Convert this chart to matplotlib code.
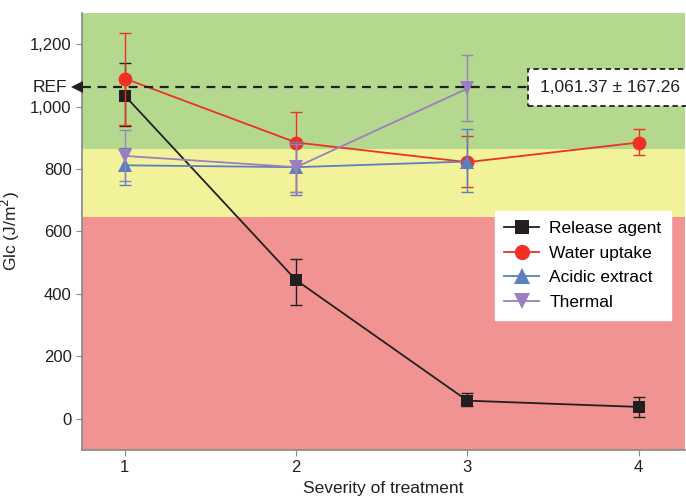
import numpy as np
import matplotlib
matplotlib.use("Agg")
import matplotlib.pyplot as plt
from matplotlib.patches import Rectangle

plt.rcParams['font.family'] = ['Liberation Sans', 'DejaVu Sans']

severity = [1, 2, 3, 4]

release_mean = [1035, 444, 58, 38]
release_lo = [97, 80, 18, 31]
release_hi = [105, 69, 24, 32]

water_x = [1, 2, 3, 4]
water_mean = [1090, 885, 822, 885]
water_lo = [148, 159, 79, 40]
water_hi = [147, 97, 85, 43]

acid_x = [1, 2, 3]
acid_mean = [812, 806, 824]
acid_lo = [64, 90, 98]
acid_hi = [54, 80, 105]

thermal_x = [1, 2, 3]
thermal_mean = [842, 806, 1058]
thermal_lo = [80, 80, 103]
thermal_hi = [82, 75, 108]

ref_value = 1061.37
ref_sd = 167.26
band_low = 645
band_high = 863

fig = plt.figure(figsize=(6.86, 4.98), dpi=100)
ax = fig.add_axes([0.1195, 0.0964, 0.879, 0.8776])

ax.set_xlim(0.75, 4.27)
ax.set_ylim(-100, 1300)

ax.axhspan(-100, band_low, color='#f29393', zorder=0, lw=0)
ax.axhspan(band_low, band_high, color='#f2f29b', zorder=0, lw=0)
ax.axhspan(band_high, 1300, color='#b5d88f', zorder=0, lw=0)

series = [
    ("Release agent", severity, release_mean, release_lo, release_hi, '#231f20', 's', 9),
    ("Water uptake", water_x, water_mean, water_lo, water_hi, '#ee3124', 'o', 10),
    ("Acidic extract", acid_x, acid_mean, acid_lo, acid_hi, '#5b7fbf', '^', 10),
    ("Thermal", thermal_x, thermal_mean, thermal_lo, thermal_hi, '#9b7fc0', 'v', 10),
]

handles = []
for i, (name, xs, ys, lo, hi, col, mk, ms) in enumerate(series):
    ax.errorbar(xs, ys, yerr=[lo, hi], fmt='none', ecolor=col, elinewidth=1.0,
                capsize=4, capthick=1.0, zorder=3 + i)
    h, = ax.plot(xs, ys, color=col, lw=1.3, marker=mk, markersize=ms,
                 markeredgewidth=0, label=name, zorder=3 + i)
    handles.append(h)

# reference line, arrow head and labels
ytrans = ax.get_yaxis_transform()
ax.plot([0, 0.74], [ref_value, ref_value], transform=ytrans, color='#231f20',
        lw=1.6, linestyle=(0, (4, 3)), zorder=8)
ax.plot([-0.008], [ref_value], transform=ytrans, marker='<', markersize=9,
        color='#231f20', markeredgewidth=0, clip_on=False, zorder=9)
ax.text(-0.025, ref_value, 'REF', transform=ytrans, ha='right', va='center',
        fontsize=12.5, color='#231f20')
ax.add_patch(Rectangle((0.74, ref_value - 58), 0.3, 116, transform=ytrans,
                       fc='white', ec='#231f20', lw=1.3, ls=(0, (3, 2)),
                       clip_on=False, zorder=9))
ax.text(0.876, ref_value, f'1,061.37 ± {ref_sd:.2f}', transform=ytrans,
        ha='center', va='center', fontsize=12.5, color='#231f20', zorder=10)

ax.set_xticks(severity)
ax.set_yticks([0, 200, 400, 600, 800, 1000, 1200])
ax.set_yticklabels(['0', '200', '400', '600', '800', '1,000', '1,200'])
ax.tick_params(labelsize=12, labelcolor='#231f20', length=4, width=0.8,
               color='#888888')
for s in ['top', 'right']:
    ax.spines[s].set_visible(False)
for s in ['left', 'bottom']:
    ax.spines[s].set_color('#888888')
    ax.spines[s].set_linewidth(1.2)

ax.set_xlabel('Severity of treatment', fontsize=12.5, color='#231f20', labelpad=4)
ax.set_ylabel('Glc (J/m$^2$)', fontsize=12.5, color='#231f20', labelpad=6)

leg = ax.legend(handles=handles, loc='upper left', bbox_to_anchor=(0.67, 0.566),
                fontsize=12.5, frameon=True, fancybox=False, framealpha=1,
                edgecolor='white', handlelength=2.0, handletextpad=0.6,
                labelspacing=0.55, borderpad=0.55, markerscale=1.1)
leg.set_zorder(11)

fig.savefig('out.png', dpi=100)
